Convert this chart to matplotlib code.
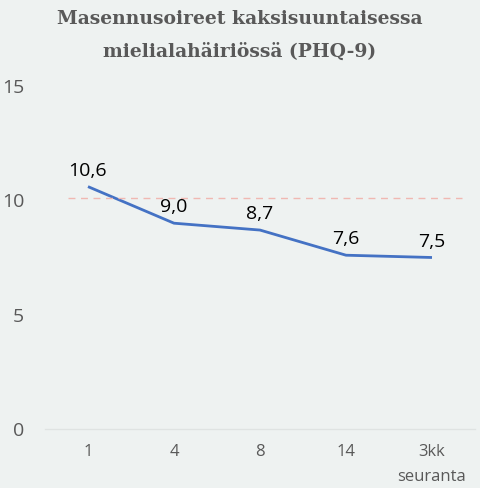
import matplotlib
matplotlib.use("Agg")
from matplotlib import pyplot as plt

categories = ["1", "4", "8", "14", "3kk\nseuranta"]
values = [10.6, 9.0, 8.7, 7.6, 7.5]
value_labels = ["10,6", "9,0", "8,7", "7,6", "7,5"]
y_ticks = [0, 5, 10, 15]
threshold = 10.1

bg = "#eef2f1"
grey = "#595959"

fig = plt.figure(figsize=(4.8, 4.88), dpi=100, facecolor=bg)
ax = fig.add_axes([45 / 480, 1 - 429 / 488, 430 / 480, 343 / 488])
ax.set_facecolor(bg)

x = list(range(len(categories)))
ax.plot(x, values, color="#4472c4", lw=2, solid_capstyle="butt")
for xi, v, lab in zip(x, values, value_labels):
    ax.annotate(lab, (xi, v), xytext=(0, 5), textcoords="offset points",
                ha="center", va="bottom", fontsize=14, family="Open Sans", color="black")

ax.hlines(threshold, -0.23, 4.35, colors="#f0b8b2", linestyles=(0, (5, 4)), lw=1)

ax.set_xlim(-0.5, 4.5)
ax.set_ylim(0, 15)
ax.set_yticks(y_ticks)
ax.set_xticks(x)
ax.set_xticklabels(categories, fontsize=12, family="Open Sans", color=grey, linespacing=1.75)
ax.set_yticklabels([str(t) for t in y_ticks], fontsize=14, family="Open Sans", color=grey)
ax.tick_params(axis="both", length=0)
ax.tick_params(axis="x", pad=11)
ax.tick_params(axis="y", pad=15)

for side in ["top", "right", "left"]:
    ax.spines[side].set_visible(False)
ax.spines["bottom"].set_color("#dfe3e2")
ax.spines["bottom"].set_linewidth(1)

fig.text(0.5, 1 - 35.5 / 488, "Masennusoireet kaksisuuntaisessa\nmielialahäiriössä (PHQ-9)",
         ha="center", va="center", fontsize=13.5, fontweight="bold",
         family="DejaVu Serif", color=grey, linespacing=2.0)

fig.savefig("out.png", dpi=100, facecolor=bg)
